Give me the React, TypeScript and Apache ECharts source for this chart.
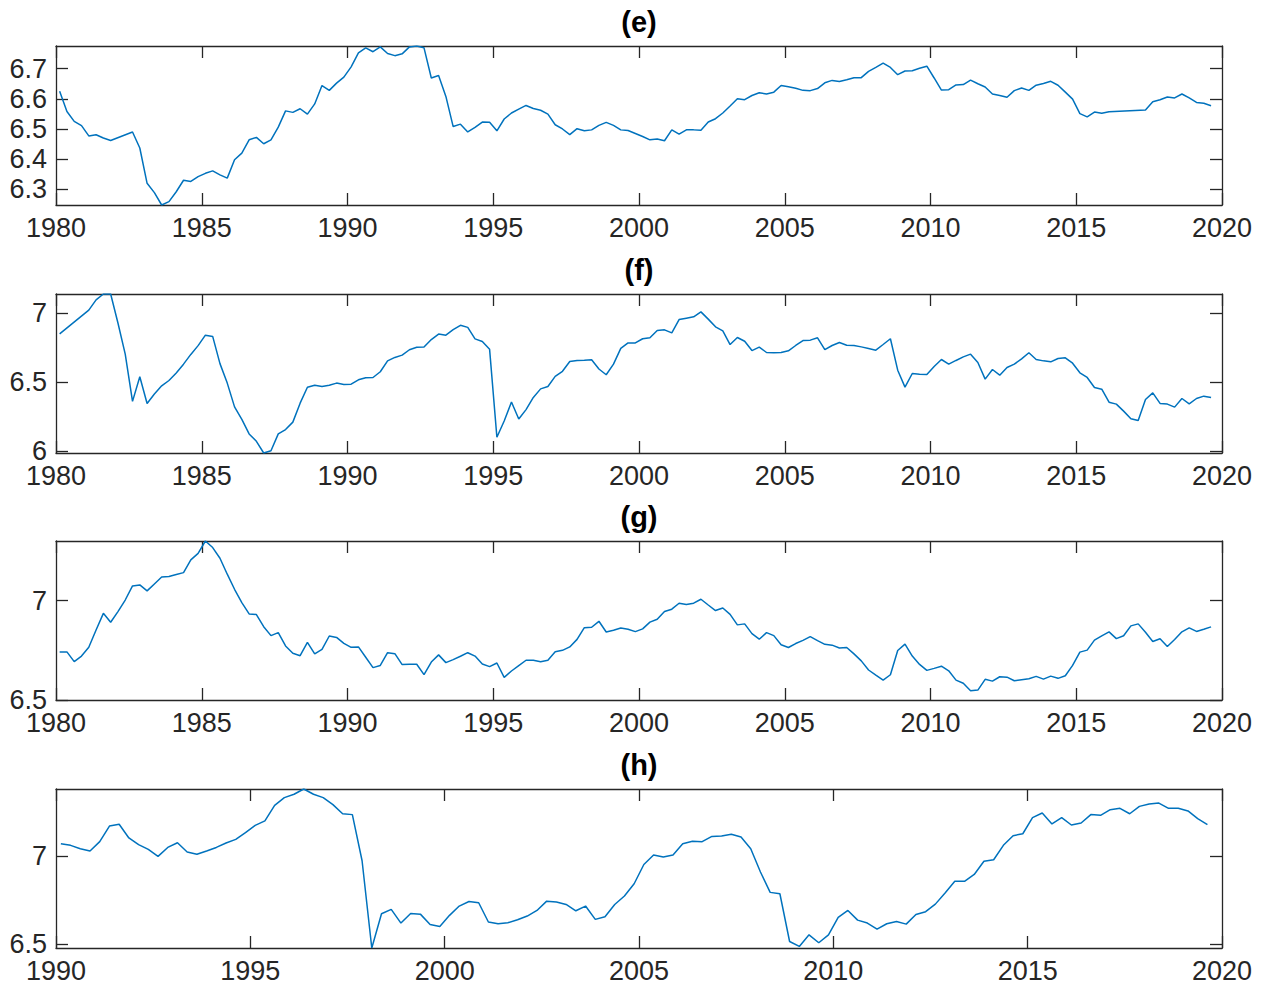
import React, { useEffect, useRef } from "react";
import * as echarts from "echarts";

// ---------- data (decimal year, value) ----------
const eData: [number, number][] = [
  [1980.125, 6.625], [1980.375, 6.558], [1980.625, 6.525], [1980.875, 6.511],
  [1981.125, 6.477], [1981.375, 6.481], [1981.625, 6.47], [1981.875, 6.462],
  [1982.625, 6.49], [1982.875, 6.437], [1983.125, 6.32], [1983.375, 6.289],
  [1983.625, 6.248], [1983.875, 6.259], [1984.125, 6.292], [1984.375, 6.33],
  [1984.625, 6.326], [1984.875, 6.342], [1985.125, 6.353], [1985.375, 6.361],
  [1985.625, 6.348], [1985.875, 6.337], [1986.125, 6.398], [1986.375, 6.42],
  [1986.625, 6.464], [1986.875, 6.472], [1987.125, 6.451], [1987.375, 6.464],
  [1987.625, 6.506], [1987.875, 6.56], [1988.125, 6.555], [1988.375, 6.567],
  [1988.625, 6.549], [1988.875, 6.583], [1989.125, 6.644], [1989.375, 6.628],
  [1989.625, 6.652], [1989.875, 6.672], [1990.125, 6.706], [1990.375, 6.752],
  [1990.625, 6.769], [1990.875, 6.756], [1991.125, 6.772], [1991.375, 6.75],
  [1991.625, 6.743], [1991.875, 6.749], [1992.125, 6.772], [1992.375, 6.775],
  [1992.625, 6.769], [1992.875, 6.669], [1993.125, 6.677], [1993.375, 6.608],
  [1993.625, 6.508], [1993.875, 6.516], [1994.125, 6.49], [1994.375, 6.505],
  [1994.625, 6.523], [1994.875, 6.522], [1995.125, 6.494], [1995.375, 6.533],
  [1995.625, 6.553], [1995.875, 6.566], [1996.125, 6.578], [1996.375, 6.568],
  [1996.625, 6.562], [1996.875, 6.549], [1997.125, 6.514], [1997.375, 6.5],
  [1997.625, 6.481], [1997.875, 6.501], [1998.125, 6.494], [1998.375, 6.497],
  [1998.625, 6.512], [1998.875, 6.522], [1999.125, 6.512], [1999.375, 6.497],
  [1999.625, 6.495], [1999.875, 6.485], [2000.125, 6.475], [2000.375, 6.464],
  [2000.625, 6.467], [2000.875, 6.461], [2001.125, 6.497], [2001.375, 6.483],
  [2001.625, 6.497], [2001.875, 6.497], [2002.125, 6.496], [2002.375, 6.523],
  [2002.625, 6.534], [2002.875, 6.553], [2003.125, 6.576], [2003.375, 6.6],
  [2003.625, 6.597], [2003.875, 6.611], [2004.125, 6.62], [2004.375, 6.616],
  [2004.625, 6.622], [2004.875, 6.644], [2005.125, 6.64], [2005.375, 6.635],
  [2005.625, 6.628], [2005.875, 6.627], [2006.125, 6.634], [2006.375, 6.653],
  [2006.625, 6.661], [2006.875, 6.657], [2007.125, 6.663], [2007.375, 6.67],
  [2007.625, 6.67], [2007.875, 6.691], [2008.125, 6.704], [2008.375, 6.718],
  [2008.625, 6.704], [2008.875, 6.68], [2009.125, 6.692], [2009.375, 6.693],
  [2009.625, 6.701], [2009.875, 6.708], [2010.125, 6.669], [2010.375, 6.629],
  [2010.625, 6.63], [2010.875, 6.646], [2011.125, 6.647], [2011.375, 6.662],
  [2011.625, 6.65], [2011.875, 6.639], [2012.125, 6.616], [2012.375, 6.611],
  [2012.625, 6.605], [2012.875, 6.627], [2013.125, 6.636], [2013.375, 6.628],
  [2013.625, 6.645], [2013.875, 6.651], [2014.125, 6.658], [2014.375, 6.645],
  [2014.625, 6.622], [2014.875, 6.599], [2015.125, 6.551], [2015.375, 6.54],
  [2015.625, 6.556], [2015.875, 6.552], [2016.125, 6.557], [2017.375, 6.563],
  [2017.625, 6.59], [2017.875, 6.597], [2018.125, 6.606], [2018.375, 6.603],
  [2018.625, 6.616], [2018.875, 6.603], [2019.125, 6.588], [2019.375, 6.585],
  [2019.625, 6.577],
];

const fData: [number, number][] = [
  [1980.125, 6.852], [1981.125, 7.025], [1981.375, 7.099], [1981.625, 7.142],
  [1981.875, 7.142], [1982.125, 6.931], [1982.375, 6.704], [1982.625, 6.36],
  [1982.875, 6.539], [1983.125, 6.345], [1983.375, 6.414], [1983.625, 6.473],
  [1983.875, 6.512], [1984.125, 6.567], [1984.375, 6.631], [1984.625, 6.702],
  [1984.875, 6.766], [1985.125, 6.842], [1985.375, 6.833], [1985.625, 6.635],
  [1985.875, 6.493], [1986.125, 6.32], [1986.375, 6.229], [1986.625, 6.123],
  [1986.875, 6.069], [1987.125, 5.984], [1987.375, 6.0], [1987.625, 6.123],
  [1987.875, 6.155], [1988.125, 6.209], [1988.375, 6.347], [1988.625, 6.463],
  [1988.875, 6.478], [1989.125, 6.468], [1989.375, 6.478], [1989.625, 6.493],
  [1989.875, 6.483], [1990.125, 6.485], [1990.375, 6.517], [1990.625, 6.532],
  [1990.875, 6.534], [1991.125, 6.576], [1991.375, 6.655], [1991.625, 6.68],
  [1991.875, 6.697], [1992.125, 6.736], [1992.375, 6.754], [1992.625, 6.756],
  [1992.875, 6.81], [1993.125, 6.85], [1993.375, 6.842], [1993.625, 6.882],
  [1993.875, 6.914], [1994.125, 6.899], [1994.375, 6.815], [1994.625, 6.796],
  [1994.875, 6.739], [1995.125, 6.099], [1995.375, 6.217], [1995.625, 6.355],
  [1995.875, 6.232], [1996.125, 6.3], [1996.375, 6.389], [1996.625, 6.451],
  [1996.875, 6.468], [1997.125, 6.542], [1997.375, 6.579], [1997.625, 6.65],
  [1997.875, 6.658], [1998.125, 6.66], [1998.375, 6.663], [1998.625, 6.596],
  [1998.875, 6.554], [1999.125, 6.631], [1999.375, 6.746], [1999.625, 6.786],
  [1999.875, 6.786], [2000.125, 6.816], [2000.375, 6.823], [2000.625, 6.876],
  [2000.875, 6.881], [2001.125, 6.859], [2001.375, 6.956], [2001.625, 6.966],
  [2001.875, 6.976], [2002.125, 7.012], [2002.375, 6.959], [2002.625, 6.903],
  [2002.875, 6.874], [2003.125, 6.774], [2003.375, 6.825], [2003.625, 6.798],
  [2003.875, 6.73], [2004.125, 6.755], [2004.375, 6.716], [2004.625, 6.714],
  [2004.875, 6.716], [2005.125, 6.728], [2005.375, 6.767], [2005.625, 6.803],
  [2005.875, 6.806], [2006.125, 6.823], [2006.375, 6.737], [2006.625, 6.767],
  [2006.875, 6.789], [2007.125, 6.769], [2007.375, 6.767], [2007.625, 6.757],
  [2007.875, 6.745], [2008.125, 6.733], [2008.375, 6.774], [2008.625, 6.816],
  [2008.875, 6.587], [2009.125, 6.464], [2009.375, 6.563], [2009.625, 6.558],
  [2009.875, 6.556], [2010.125, 6.614], [2010.375, 6.665], [2010.625, 6.631],
  [2010.875, 6.658], [2011.125, 6.684], [2011.375, 6.704], [2011.625, 6.643],
  [2011.875, 6.522], [2012.125, 6.592], [2012.375, 6.551], [2012.625, 6.607],
  [2012.875, 6.631], [2013.125, 6.67], [2013.375, 6.714], [2013.625, 6.665],
  [2013.875, 6.655], [2014.125, 6.648], [2014.375, 6.672], [2014.625, 6.677],
  [2014.875, 6.638], [2015.125, 6.568], [2015.375, 6.534], [2015.625, 6.461],
  [2015.875, 6.449], [2016.125, 6.354], [2016.375, 6.34], [2016.625, 6.289],
  [2016.875, 6.233], [2017.125, 6.221], [2017.375, 6.374], [2017.625, 6.422],
  [2017.875, 6.345], [2018.125, 6.34], [2018.375, 6.318], [2018.625, 6.381],
  [2018.875, 6.342], [2019.125, 6.381], [2019.375, 6.398], [2019.625, 6.388],
];

const gData: [number, number][] = [
  [1980.125, 6.742], [1980.375, 6.742], [1980.625, 6.693], [1980.875, 6.721],
  [1981.125, 6.765], [1981.375, 6.852], [1981.625, 6.936], [1981.875, 6.891],
  [1982.125, 6.945], [1982.375, 7.003], [1982.625, 7.074], [1982.875, 7.079],
  [1983.125, 7.049], [1983.375, 7.084], [1983.625, 7.119], [1983.875, 7.121],
  [1984.125, 7.131], [1984.375, 7.141], [1984.625, 7.205], [1984.875, 7.238],
  [1985.125, 7.3], [1985.375, 7.267], [1985.625, 7.213], [1985.875, 7.133],
  [1986.125, 7.057], [1986.375, 6.99], [1986.625, 6.933], [1986.875, 6.93],
  [1987.125, 6.869], [1987.375, 6.824], [1987.625, 6.839], [1987.875, 6.772],
  [1988.125, 6.735], [1988.375, 6.723], [1988.625, 6.79], [1988.875, 6.732],
  [1989.125, 6.755], [1989.375, 6.822], [1989.625, 6.815], [1989.875, 6.785],
  [1990.125, 6.765], [1990.375, 6.767], [1990.625, 6.715], [1990.875, 6.663],
  [1991.125, 6.674], [1991.375, 6.738], [1991.625, 6.733], [1991.875, 6.678],
  [1992.125, 6.68], [1992.375, 6.68], [1992.625, 6.628], [1992.875, 6.691],
  [1993.125, 6.727], [1993.375, 6.688], [1993.625, 6.703], [1993.875, 6.72],
  [1994.125, 6.738], [1994.375, 6.721], [1994.625, 6.681], [1994.875, 6.668],
  [1995.125, 6.686], [1995.375, 6.614], [1995.625, 6.646], [1995.875, 6.673],
  [1996.125, 6.7], [1996.375, 6.7], [1996.625, 6.693], [1996.875, 6.7],
  [1997.125, 6.743], [1997.375, 6.75], [1997.625, 6.767], [1997.875, 6.805],
  [1998.125, 6.864], [1998.375, 6.866], [1998.625, 6.896], [1998.875, 6.842],
  [1999.125, 6.851], [1999.375, 6.862], [1999.625, 6.856], [1999.875, 6.844],
  [2000.125, 6.858], [2000.375, 6.892], [2000.625, 6.906], [2000.875, 6.945],
  [2001.125, 6.957], [2001.375, 6.987], [2001.625, 6.98], [2001.875, 6.987],
  [2002.125, 7.007], [2002.375, 6.978], [2002.625, 6.95], [2002.875, 6.963],
  [2003.125, 6.931], [2003.375, 6.878], [2003.625, 6.883], [2003.875, 6.834],
  [2004.125, 6.806], [2004.375, 6.839], [2004.625, 6.824], [2004.875, 6.778],
  [2005.125, 6.764], [2005.375, 6.784], [2005.625, 6.8], [2005.875, 6.819],
  [2006.125, 6.799], [2006.375, 6.78], [2006.625, 6.776], [2006.875, 6.762],
  [2007.125, 6.764], [2007.375, 6.732], [2007.625, 6.697], [2007.875, 6.651],
  [2008.125, 6.625], [2008.375, 6.6], [2008.625, 6.627], [2008.875, 6.749],
  [2009.125, 6.781], [2009.375, 6.721], [2009.625, 6.679], [2009.875, 6.649],
  [2010.125, 6.659], [2010.375, 6.67], [2010.625, 6.647], [2010.875, 6.6],
  [2011.125, 6.584], [2011.375, 6.547], [2011.625, 6.55], [2011.875, 6.604],
  [2012.125, 6.595], [2012.375, 6.617], [2012.625, 6.615], [2012.875, 6.597],
  [2013.125, 6.602], [2013.375, 6.607], [2013.625, 6.619], [2013.875, 6.605],
  [2014.125, 6.62], [2014.375, 6.609], [2014.625, 6.622], [2014.875, 6.674],
  [2015.125, 6.741], [2015.375, 6.751], [2015.625, 6.801], [2015.875, 6.823],
  [2016.125, 6.843], [2016.375, 6.809], [2016.625, 6.823], [2016.875, 6.873],
  [2017.125, 6.883], [2017.375, 6.841], [2017.625, 6.794], [2017.875, 6.808],
  [2018.125, 6.769], [2018.375, 6.804], [2018.625, 6.843], [2018.875, 6.863],
  [2019.125, 6.845], [2019.375, 6.856], [2019.625, 6.868],
];

const hData: [number, number][] = [
  [1990.125, 7.07], [1990.375, 7.061], [1990.625, 7.042], [1990.875, 7.029],
  [1991.125, 7.082], [1991.375, 7.171], [1991.625, 7.181], [1991.875, 7.103],
  [1992.125, 7.065], [1992.375, 7.038], [1992.625, 6.998], [1992.875, 7.049],
  [1993.125, 7.076], [1993.375, 7.023], [1993.625, 7.01], [1993.875, 7.029],
  [1994.125, 7.049], [1994.375, 7.074], [1994.625, 7.095], [1994.875, 7.133],
  [1995.125, 7.175], [1995.375, 7.2], [1995.625, 7.289], [1995.875, 7.333],
  [1996.125, 7.352], [1996.375, 7.382], [1996.625, 7.352], [1996.875, 7.333],
  [1997.125, 7.293], [1997.375, 7.241], [1997.625, 7.236], [1997.875, 6.973],
  [1998.125, 6.476], [1998.375, 6.671], [1998.625, 6.696], [1998.875, 6.618],
  [1999.125, 6.673], [1999.375, 6.669], [1999.625, 6.61], [1999.875, 6.599],
  [2000.125, 6.662], [2000.375, 6.715], [2000.625, 6.741], [2000.875, 6.734],
  [2001.125, 6.624], [2001.375, 6.614], [2001.625, 6.62], [2001.875, 6.637],
  [2002.125, 6.658], [2002.375, 6.69], [2002.625, 6.743], [2002.875, 6.738],
  [2003.125, 6.724], [2003.375, 6.688], [2003.625, 6.715], [2003.875, 6.639],
  [2004.125, 6.654], [2004.375, 6.724], [2004.625, 6.772], [2004.875, 6.842],
  [2005.125, 6.952], [2005.375, 7.006], [2005.625, 6.994], [2005.875, 7.006],
  [2006.125, 7.07], [2006.375, 7.084], [2006.625, 7.082], [2006.875, 7.112],
  [2007.125, 7.114], [2007.375, 7.124], [2007.625, 7.108], [2007.875, 7.042],
  [2008.125, 6.909], [2008.375, 6.793], [2008.625, 6.785], [2008.875, 6.513],
  [2009.125, 6.485], [2009.375, 6.551], [2009.625, 6.506], [2009.875, 6.551],
  [2010.125, 6.65], [2010.375, 6.69], [2010.625, 6.635], [2010.875, 6.618],
  [2011.125, 6.584], [2011.375, 6.614], [2011.625, 6.627], [2011.875, 6.612],
  [2012.125, 6.667], [2012.375, 6.683], [2012.625, 6.726], [2012.875, 6.789],
  [2013.125, 6.856], [2013.375, 6.856], [2013.625, 6.895], [2013.875, 6.97],
  [2014.125, 6.979], [2014.375, 7.061], [2014.625, 7.116], [2014.875, 7.127],
  [2015.125, 7.219], [2015.375, 7.245], [2015.625, 7.183], [2015.875, 7.219],
  [2016.125, 7.177], [2016.375, 7.188], [2016.625, 7.236], [2016.875, 7.232],
  [2017.125, 7.264], [2017.375, 7.272], [2017.625, 7.241], [2017.875, 7.283],
  [2018.125, 7.297], [2018.375, 7.302], [2018.625, 7.272], [2018.875, 7.272],
  [2019.125, 7.257], [2019.375, 7.213], [2019.625, 7.179],
];

const titles = ["(e)", "(f)", "(g)", "(h)"];
const xRanges: [number, number][] = [[1980, 2020], [1980, 2020], [1980, 2020], [1990, 2020]];
const yRanges: [number, number][] = [[6.248, 6.775], [5.984, 7.142], [6.5, 7.3], [6.476, 7.382]];
const yTicks: number[][] = [[6.3, 6.4, 6.5, 6.6, 6.7], [6, 6.5, 7], [6.5, 7], [6.5, 7]];
const seriesData = [eData, fData, gData, hData];

// ---------- layout ----------
const GRID_LEFT = 56;
const GRID_WIDTH = 1166;
const GRID_TOPS = [46, 294, 541, 789];
const GRID_HEIGHT = 159;

const AXIS_COLOR = "#262626";
const LINE_COLOR = "#0072BD";
const FONT = '"Liberation Sans", Arial, Helvetica, sans-serif';

export default function App() {
  const ref = useRef<HTMLDivElement>(null);

  useEffect(() => {
    if (!ref.current) return;
    const chart = echarts.init(ref.current, undefined, { renderer: "svg" });

    const grid: any[] = [];
    const xAxis: any[] = [];
    const yAxis: any[] = [];
    const series: any[] = [];
    const graphic: any[] = [];

    const lineStyle = { color: AXIS_COLOR, width: 1.3 };

    for (let i = 0; i < 4; i++) {
      grid.push({
        left: GRID_LEFT,
        top: GRID_TOPS[i],
        width: GRID_WIDTH,
        height: GRID_HEIGHT,
        containLabel: false,
      });
      const [x0, x1] = xRanges[i];
      const [y0, y1] = yRanges[i];
      xAxis.push({
        type: "value",
        gridIndex: i,
        position: "bottom",
        min: x0,
        max: x1,
        interval: 5,
        axisLine: { show: true, onZero: false, lineStyle },
        axisTick: { show: true, inside: true, length: 12, lineStyle },
        axisLabel: {
          show: true,
          color: AXIS_COLOR,
          fontSize: 27,
          fontFamily: FONT,
          margin: 9,
          showMinLabel: true,
          showMaxLabel: true,
          formatter: (v: number) => String(v),
        },
        splitLine: { show: false },
      });
      xAxis.push({
        type: "value",
        gridIndex: i,
        position: "top",
        min: x0,
        max: x1,
        interval: 5,
        axisLine: { show: true, onZero: false, lineStyle },
        axisTick: { show: true, inside: true, length: 12, lineStyle },
        axisLabel: { show: false },
        splitLine: { show: false },
      });
      yAxis.push({
        type: "value",
        gridIndex: i,
        position: "left",
        min: y0,
        max: y1,
        axisLine: { show: true, onZero: false, lineStyle },
        axisTick: { show: true, inside: true, length: 12, lineStyle, customValues: yTicks[i] },
        axisLabel: {
          show: true,
          color: AXIS_COLOR,
          fontSize: 27,
          fontFamily: FONT,
          margin: 9,
          customValues: yTicks[i],
          formatter: (v: number) => String(v),
        },
        splitLine: { show: false },
      });
      yAxis.push({
        type: "value",
        gridIndex: i,
        position: "right",
        min: y0,
        max: y1,
        axisLine: { show: true, onZero: false, lineStyle },
        axisTick: { show: true, inside: true, length: 12, lineStyle, customValues: yTicks[i] },
        axisLabel: { show: false, customValues: yTicks[i] },
        splitLine: { show: false },
      });
      series.push({
        type: "line",
        xAxisIndex: 2 * i,
        yAxisIndex: 2 * i,
        data: seriesData[i],
        showSymbol: false,
        symbol: "none",
        lineStyle: { color: LINE_COLOR, width: 1.5 },
        clip: true,
      });
      graphic.push({
        type: "text",
        x: GRID_LEFT + GRID_WIDTH / 2,
        y: GRID_TOPS[i] - 24,
        style: {
          text: titles[i],
          fill: "#000",
          font: `bold 29px ${FONT}`,
          textAlign: "center",
          textVerticalAlign: "middle",
        },
      });
    }

    chart.setOption({
      animation: false,
      backgroundColor: "#ffffff",
      grid,
      xAxis,
      yAxis,
      series,
      graphic,
    });

    return () => chart.dispose();
  }, []);

  return (
    <div
      ref={ref}
      style={{ position: "absolute", left: 0, top: 0, width: 1269, height: 988, background: "#fff" }}
    />
  );
}
